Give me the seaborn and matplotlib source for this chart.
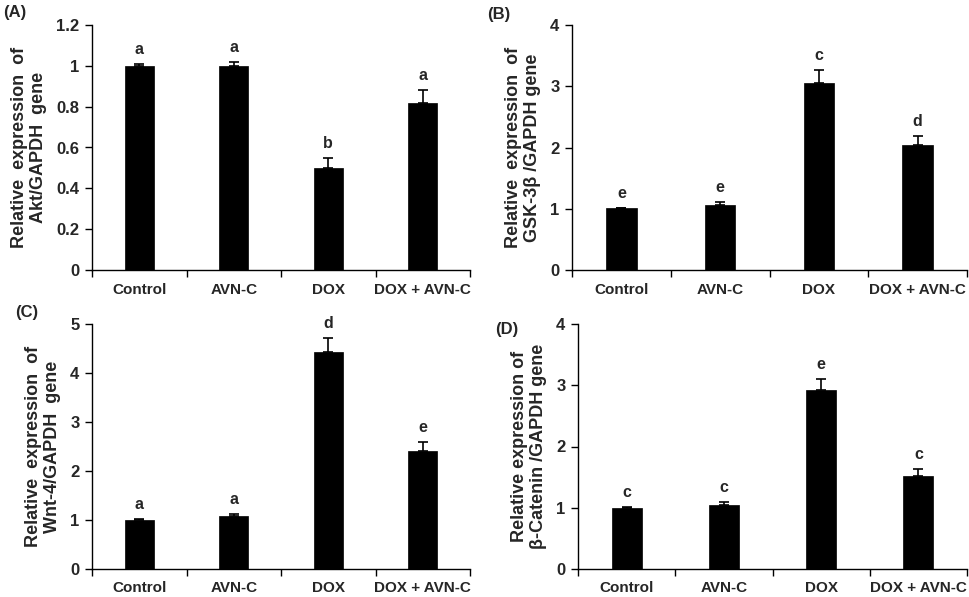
import matplotlib
matplotlib.use("Agg")
import matplotlib.pyplot as plt
import seaborn as sns
import numpy as np
from matplotlib.ticker import FixedLocator, MultipleLocator, FuncFormatter

categories = ["Control", "AVN-C", "DOX", "DOX + AVN-C"]

akt_vals = [1.00, 1.00, 0.50, 0.82]
akt_err = [0.01, 0.02, 0.05, 0.06]
akt_letters = ["a", "a", "b", "a"]

gsk_vals = [1.01, 1.06, 3.05, 2.04]
gsk_err = [0.01, 0.05, 0.21, 0.15]
gsk_letters = ["e", "e", "c", "d"]

wnt_vals = [1.00, 1.09, 4.42, 2.40]
wnt_err = [0.02, 0.04, 0.30, 0.20]
wnt_letters = ["a", "a", "d", "e"]

bcat_vals = [1.00, 1.05, 2.93, 1.52]
bcat_err = [0.01, 0.04, 0.17, 0.12]
bcat_letters = ["c", "c", "e", "c"]

ylabels = ["Relative  expression  of\nAkt/GAPDH  gene",
           "Relative  expression  of\nGSK-3β /GAPDH gene",
           "Relative  expression  of\nWnt-4/GAPDH  gene",
           "Relative expression of\nβ-Catenin /GAPDH gene"]
panel_tags = ["(A)", "(B)", "(C)", "(D)"]
ymax = [1.2, 4, 5, 4]
ystep = [0.2, 1, 1, 1]

sns.set_theme(style="white")
plt.rcParams["font.family"] = ["Liberation Sans", "DejaVu Sans"]
plt.rcParams["font.weight"] = "bold"

fig = plt.figure(figsize=(9.69, 5.97), dpi=100)
W, H = 969, 597
rects = [(92, 25, 470, 270), (572, 25, 967, 270), (92, 324, 470, 569), (578, 324, 967, 569)]
tag_pos = [(3, 5), (487, 7), (15, 305), (495, 322)]

data = [(akt_vals, akt_err, akt_letters), (gsk_vals, gsk_err, gsk_letters),
        (wnt_vals, wnt_err, wnt_letters), (bcat_vals, bcat_err, bcat_letters)]

for k, ((vals, errs, letters), (x0, y0, x1, y1)) in enumerate(zip(data, rects)):
    ax = fig.add_axes([x0 / W, (H - y1) / H, (x1 - x0) / W, (y1 - y0) / H])
    sns.barplot(x=categories, y=vals, color="black", width=0.31, ax=ax,
                saturation=1, edgecolor="black", linewidth=0.5, zorder=3)
    xs = np.arange(len(categories))
    ax.errorbar(xs, vals, yerr=[np.zeros(len(vals)), errs], fmt="none",
                ecolor="black", elinewidth=1.2, capsize=3.5, capthick=1.2, zorder=2)
    for i, (v, e, lt) in enumerate(zip(vals, errs, letters)):
        ax.annotate(lt, xy=(i, v + e), xytext=(0, 5), textcoords="offset points",
                    ha="center", va="bottom", fontsize=11.5, fontweight="bold")
    ax.set_xlim(-0.5, len(categories) - 0.5)
    ax.set_ylim(0, ymax[k])
    ax.yaxis.set_major_locator(MultipleLocator(ystep[k]))
    if ystep[k] < 1:
        ax.yaxis.set_major_formatter(FuncFormatter(lambda v, p: "0" if abs(v) < 1e-9 else ("%g" % round(v, 1))))
    ax.xaxis.set_minor_locator(FixedLocator(np.arange(-0.5, len(categories), 1.0)))
    ax.tick_params(axis="x", which="major", length=0, pad=9, labelsize=11)
    ax.tick_params(axis="x", which="minor", length=5, width=1, color="black", direction="out", bottom=True)
    ax.tick_params(axis="y", which="major", length=5, width=1, color="black", direction="out", left=True,
                   labelsize=12, pad=4)
    for lab in ax.get_xticklabels() + ax.get_yticklabels():
        lab.set_fontweight("bold")
    for s in ["top", "right"]:
        ax.spines[s].set_visible(False)
    for s in ["left", "bottom"]:
        ax.spines[s].set_color("black")
        ax.spines[s].set_linewidth(1)
    ax.set_ylabel(ylabels[k], fontsize=13, fontweight="bold", labelpad=7, linespacing=1.15)
    ax.set_xlabel("")
    tx, ty = tag_pos[k]
    fig.text(tx / W, 1 - ty / H, panel_tags[k], ha="left", va="top", fontsize=12, fontweight="bold")

fig.savefig("out.png", dpi=100, facecolor="white")
